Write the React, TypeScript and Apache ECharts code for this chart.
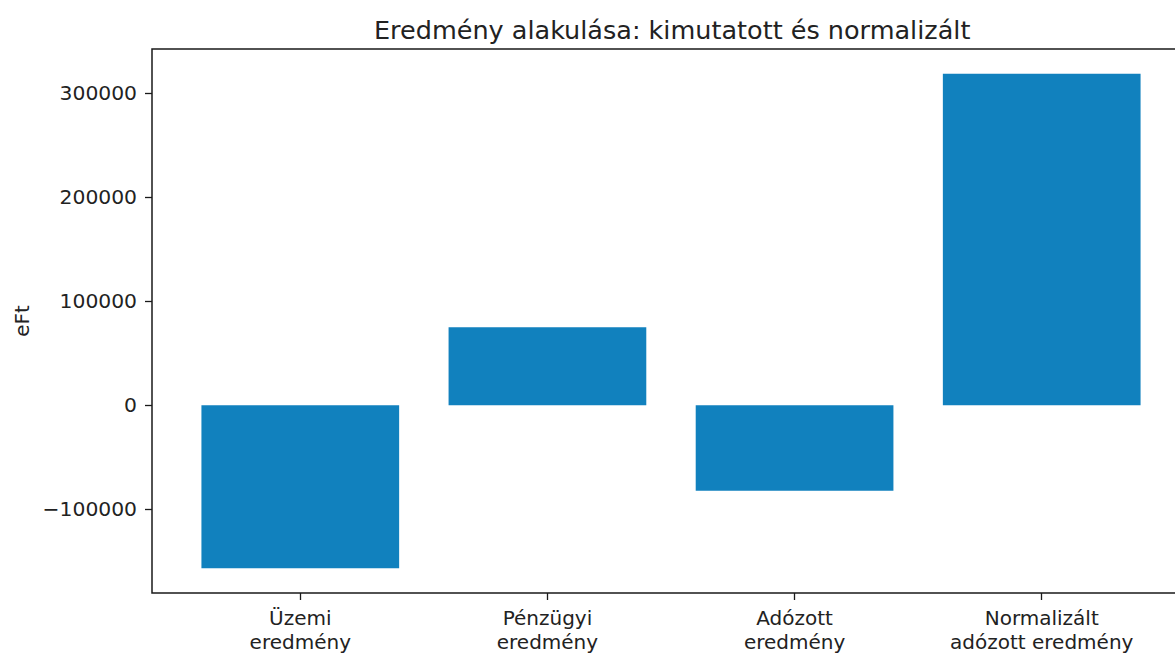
import React, { useEffect, useRef } from "react";
import * as echarts from "echarts";

const title = "Eredmény alakulása: kimutatott és normalizált";
const categories = ["Üzemi\neredmény", "Pénzügyi\neredmény", "Adózott\neredmény", "Normalizált\nadózott eredmény"];
const values = [-156500, 75000, -82000, 318500];
const yTicks = [-100000, 0, 100000, 200000, 300000];
const yName = "eFt";

const W = 1210;
const H = 654;
const GRID_LEFT = 152;
const GRID_RIGHT = 20;
const GRID_TOP = 49;
const GRID_BOTTOM = 58;
const FONT = "DejaVu Sans";
const TEXT = "#222222";

export default function App() {
  const ref = useRef<HTMLDivElement>(null);
  useEffect(() => {
    if (!ref.current) return;
    const chart = echarts.init(ref.current, undefined, { renderer: "svg" });
    const xMin = -0.6;
    const xMax = categories.length - 1 + 0.6;
    const plotW = W - GRID_LEFT - GRID_RIGHT;
    const unit = plotW / (xMax - xMin);
    const dMin = Math.min(0, ...values);
    const dMax = Math.max(0, ...values);
    const pad = (dMax - dMin) * 0.05;
    chart.setOption({
      animation: false,
      title: {
        text: title,
        left: 369,
        top: 12,
        textStyle: { fontFamily: FONT, fontSize: 25.5, fontWeight: "normal", color: TEXT },
      },
      grid: {
        left: GRID_LEFT,
        right: GRID_RIGHT,
        top: GRID_TOP,
        bottom: GRID_BOTTOM,
        show: true,
        borderColor: "#1a1a1a",
        borderWidth: 1.5,
        backgroundColor: "transparent",
      },
      xAxis: {
        type: "value",
        min: xMin,
        max: xMax,
        splitLine: { show: false },
        axisLine: { show: false, onZero: false },
        axisTick: { show: true, length: 7, customValues: categories.map((_, i) => i), lineStyle: { color: "#1a1a1a", width: 1.3 } },
        axisLabel: {
          customValues: categories.map((_, i) => i),
          formatter: (v: number) => categories[Math.round(v)] ?? "",
          fontFamily: FONT,
          fontSize: 20,
          lineHeight: 24,
          color: TEXT,
          margin: 13,
        },
      },
      yAxis: {
        type: "value",
        min: dMin - pad,
        max: dMax + pad,
        name: yName,
        nameLocation: "middle",
        nameGap: 116,
        nameTextStyle: { fontFamily: FONT, fontSize: 20, color: TEXT },
        splitLine: { show: false },
        axisLine: { show: false, onZero: false },
        axisTick: { show: true, length: 7, customValues: yTicks, lineStyle: { color: "#1a1a1a", width: 1.3 } },
        axisLabel: {
          customValues: yTicks,
          formatter: (v: number) => (v < 0 ? "\u2212" + String(Math.abs(v)) : String(v)),
          fontFamily: FONT,
          fontSize: 20.3,
          color: TEXT,
          margin: 15,
        },
      },
      series: [
        {
          type: "bar",
          data: values.map((v, i) => [i, v]),
          barWidth: unit * 0.8,
          itemStyle: { color: "#1181be" },
        },
      ],
    });
    return () => chart.dispose();
  }, []);
  return <div ref={ref} style={{ position: "fixed", left: 0, top: 0, width: W, height: H, background: "#fff" }} />;
}
